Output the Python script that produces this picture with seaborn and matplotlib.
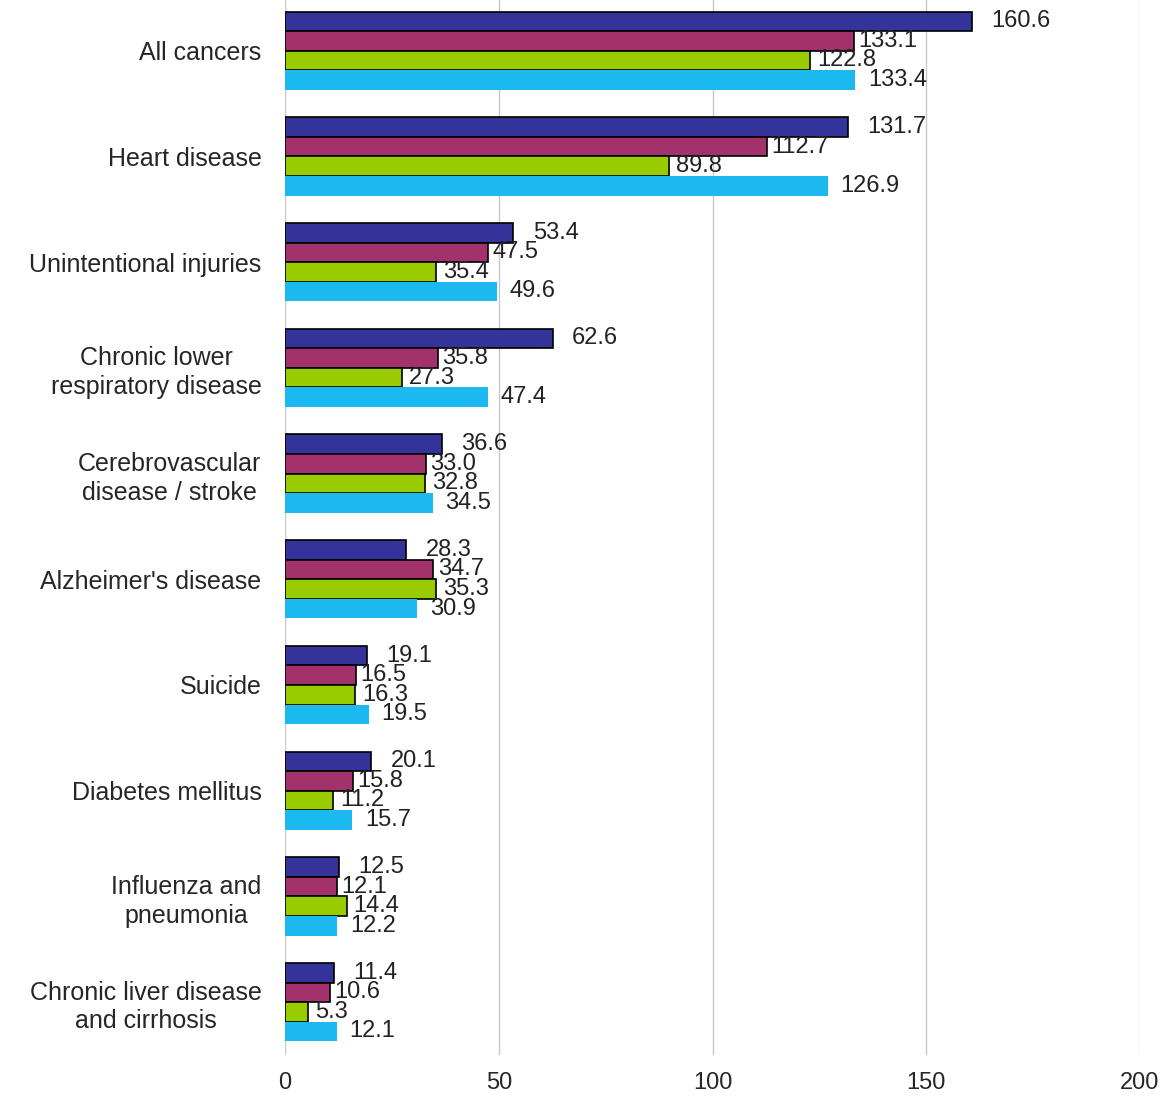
import matplotlib
matplotlib.use("Agg")
import matplotlib.pyplot as plt
import seaborn as sns
import pandas as pd

categories = [
    "All cancers",
    "Heart disease",
    "Unintentional injuries",
    "Chronic lower\nrespiratory disease",
    "Cerebrovascular\ndisease / stroke",
    "Alzheimer's disease",
    "Suicide",
    "Diabetes mellitus",
    "Influenza and\npneumonia",
    "Chronic liver disease\nand cirrhosis",
]
series_names = ["Series 1", "Series 2", "Series 3", "Series 4"]
series1 = [160.6, 131.7, 53.4, 62.6, 36.6, 28.3, 19.1, 20.1, 12.5, 11.4]
series2 = [133.1, 112.7, 47.5, 35.8, 33.0, 34.7, 16.5, 15.8, 12.1, 10.6]
series3 = [122.8, 89.8, 35.4, 27.3, 32.8, 35.3, 16.3, 11.2, 14.4, 5.3]
series4 = [133.4, 126.9, 49.6, 47.4, 34.5, 30.9, 19.5, 15.7, 12.2, 12.1]
x_ticks = [0, 50, 100, 150, 200]

colors = ["#333399", "#A3326C", "#99CC00", "#1CB8F0"]

rows = []
for name, vals in zip(series_names, [series1, series2, series3, series4]):
    for c, v in zip(categories, vals):
        rows.append({"category": c, "series": name, "value": v})
df = pd.DataFrame(rows)

sns.set_style("white")
plt.rcParams["font.family"] = ["Liberation Sans", "DejaVu Sans"]

fig = plt.figure(figsize=(11.64, 10.96), dpi=100)
ax = fig.add_axes([0.245, 0.0374, 0.9794 - 0.245, 1.002 - 0.0374])

sns.barplot(data=df, y="category", x="value", hue="series", order=categories,
            hue_order=series_names, palette=colors, orient="h", width=0.74,
            dodge=True, legend=False, ax=ax, saturation=1)

paddings = [14, 3, 5, 9]
for i, cont in enumerate(ax.containers):
    for bar in cont:
        if i == 3:
            bar.set_edgecolor("none")
            bar.set_linewidth(0)
        else:
            bar.set_edgecolor("black")
            bar.set_linewidth(1.2)
    ax.bar_label(cont, fmt="%.1f", padding=paddings[i], fontsize=17, color="#222222")

ax.set_xlim(0, 200)
ax.set_ylim(len(categories) - 0.5, -0.5)
ax.set_xticks(x_ticks)
ax.set_xticklabels([str(t) for t in x_ticks], fontsize=17)
ax.grid(axis="x", color="#c8c8c8", linewidth=1)
ax.set_axisbelow(True)
for s in ax.spines.values():
    s.set_visible(False)
ax.tick_params(axis="x", length=0, pad=12)
ax.tick_params(axis="y", length=0, pad=17, labelsize=18)
for lbl in ax.get_yticklabels():
    lbl.set_multialignment("center")
    lbl.set_linespacing(1.25)
ax.set_yticks([k + 0.5 for k in range(len(categories) - 1)], minor=True)
ax.tick_params(axis="y", which="minor", length=6, width=1, color="#333333", direction="out")
ax.set_xlabel("")
ax.set_ylabel("")

fig.savefig("out.png", dpi=100)
